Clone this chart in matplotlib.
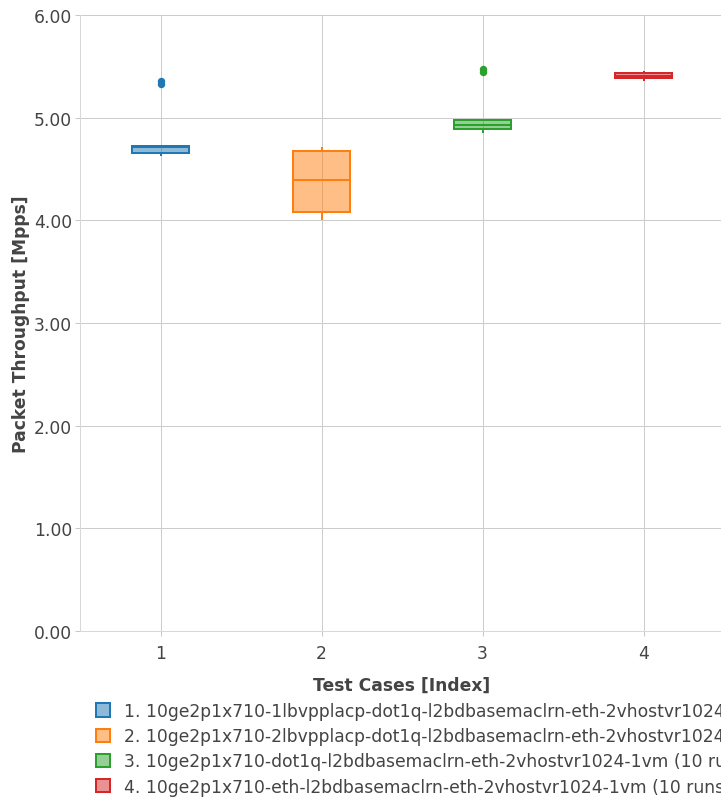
import matplotlib
matplotlib.use("Agg")
import matplotlib.pyplot as plt
from matplotlib.patches import Patch

# throughput samples per test case (10 runs each), Mpps
labels = [
    "1. 10ge2p1x710-1lbvpplacp-dot1q-l2bdbasemaclrn-eth-2vhostvr1024-1vm (10 runs)",
    "2. 10ge2p1x710-2lbvpplacp-dot1q-l2bdbasemaclrn-eth-2vhostvr1024-1vm (10 runs)",
    "3. 10ge2p1x710-dot1q-l2bdbasemaclrn-eth-2vhostvr1024-1vm (10 runs)",
    "4. 10ge2p1x710-eth-l2bdbasemaclrn-eth-2vhostvr1024-1vm (10 runs)",
]
case1 = [4.64, 4.65, 4.65, 4.68, 4.70, 4.72, 4.72, 4.72, 5.33, 5.36]
case2 = [4.01, 4.05, 4.07, 4.12, 4.35, 4.44, 4.67, 4.68, 4.69, 4.70]
case3 = [4.86, 4.87, 4.88, 4.90, 4.92, 4.94, 4.96, 4.98, 5.44, 5.47]
case4 = [5.37, 5.38, 5.38, 5.39, 5.40, 5.41, 5.43, 5.44, 5.44, 5.44]
samples = [case1, case2, case3, case4]
positions = [1, 2, 3, 4]
colors = ["#1f77b4", "#ff7f0e", "#2ca02c", "#d62728"]
yticks = [0, 1, 2, 3, 4, 5, 6]

PX = 0.72  # pt per pixel at dpi 100
FS = 12.3
txt = "#444444"
grid = "#cccccc"

plt.rcParams["font.family"] = ["DejaVu Sans"]
fig = plt.figure(figsize=(7.21, 8.03), dpi=100)
ax = fig.add_axes([80 / 721, 171 / 803, 644 / 721, 616 / 803])

for pos, data, c in zip(positions, samples, colors):
    ax.boxplot(
        [data], positions=[pos], widths=0.36, patch_artist=True,
        boxprops=dict(facecolor=matplotlib.colors.to_rgba(c, 0.5), edgecolor=c, linewidth=2 * PX),
        medianprops=dict(color=c, linewidth=2 * PX),
        whiskerprops=dict(color=c, linewidth=2 * PX),
        capprops=dict(linewidth=0),
        flierprops=dict(marker="o", markerfacecolor=c, markeredgecolor=c, markersize=6 * PX),
        zorder=3,
    )

ax.set_xlim(0.5, 4.5)
ax.set_ylim(0, 6)
ax.set_xticks(positions)
ax.set_xticklabels([str(p) for p in positions])
ax.set_yticks(yticks)
ax.set_yticklabels(["%.2f" % v for v in yticks])
ax.grid(True, color=grid, linewidth=1 * PX, zorder=0)
ax.set_axisbelow(True)
for s in ["top", "right"]:
    ax.spines[s].set_visible(False)
for s in ["left", "bottom"]:
    ax.spines[s].set_color("#d8d8d8")
    ax.spines[s].set_linewidth(1 * PX)
ax.tick_params(axis="both", colors="#c8c8c8", labelcolor=txt, labelsize=FS,
               length=5 * PX, width=1 * PX)
ax.tick_params(axis="y", pad=2)
ax.tick_params(axis="x", pad=5.5)

ax.set_ylabel("Packet Throughput [Mpps]", fontsize=FS, fontweight="bold", color=txt, labelpad=3)
ax.set_xlabel("Test Cases [Index]", fontsize=FS, fontweight="bold", color=txt, labelpad=10)

handles = [Patch(facecolor=matplotlib.colors.to_rgba(c, 0.5), edgecolor=c, linewidth=2 * PX) for c in colors]
fig.legend(handles, labels, loc="upper left", bbox_to_anchor=(96 / 721, 1 - 703 / 803),
           frameon=False, fontsize=FS, labelcolor=txt, handlelength=0.82, handleheight=0.82,
           handletextpad=0.8, labelspacing=0.42, borderaxespad=0, borderpad=0)

fig.savefig("out.png", dpi=100)
